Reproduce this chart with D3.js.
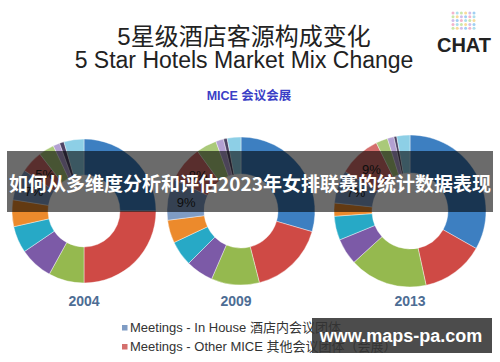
<html>
<head>
<meta charset="utf-8">
<script src="https://cdnjs.cloudflare.com/ajax/libs/d3/7.8.5/d3.min.js"></script>
<style>
  body { margin: 0; background: #fff; }
  svg { display: block; }
  text { font-family: "Liberation Sans", Arial, "Noto Sans CJK SC", sans-serif; }
</style>
</head>
<body>
<svg width="500" height="362"></svg>
<script>
// market mix by segment, % of room nights, clockwise from 12 o'clock
var years = ["2004", "2009", "2013"];
var segments = ["Corporate", "Leisure FIT", "Tour Group", "Long Stay", "Government", "Airline Crew",
                "Meetings - In House", "Meetings - Other MICE", "Wholesale", "Online", "Complimentary", "Others"];
var mix2004 = [25, 25, 8, 7.5, 6, 6, 7, 5, 3.5, 1.5, 1, 4.5];
var mix2009 = [29.5, 16.5, 10.5, 6, 5.5, 5, 9, 8, 4.5, 1.7, 0.8, 3];
var mix2013 = [33.2, 13.4, 16.6, 5.6, 5.1, 2.8, 7, 9, 2.5, 1.4, 0.6, 2.8];
var mixes = [mix2004, mix2009, mix2013];
var labeled = ["Meetings - In House", "Meetings - Other MICE"];
var legendText = ["Meetings - In House 酒店内会议团体", "Meetings - Other MICE 其他会议团体（会展）"];

var colors = ["#3d7fc1", "#cf4a45", "#95b94f", "#7c5aa7", "#27a9c6", "#ec8a2c",
              "#7f9cc4", "#d46f6d", "#aac97a", "#b3a1d2", "#4f4566", "#8dcfe6"];

var svg = d3.select("svg");

var color = d3.scaleOrdinal().domain(segments).range(colors);
var cx = d3.scaleOrdinal().domain(years).range([84, 241, 410]);
var rOuter = d3.scaleOrdinal().domain(years).range([72, 74, 76]);
var cy = 211;

// titles
svg.append("text").attr("x", 244).attr("y", 45).attr("text-anchor", "middle")
  .style("font-size", "24px").style("fill", "#222")
  .style("font-family", "'Liberation Sans', 'Noto Sans CJK SC', sans-serif")
  .text("5星级酒店客源构成变化");
svg.append("text").attr("x", 244).attr("y", 68).attr("text-anchor", "middle")
  .style("font-size", "23px").style("fill", "#222")
  .text("5 Star Hotels Market Mix Change");
svg.append("text").attr("x", 249).attr("y", 100).attr("text-anchor", "middle")
  .style("font-size", "12.5px").style("font-weight", "bold").style("fill", "#3b3fc6")
  .text("MICE 会议会展");

// CHAT logo
var bubble = svg.append("g");
var dotColors = ["#f2a7c3", "#9fd8e8", "#c3e39b", "#f7d58b", "#c9b3e6", "#8fc7f0"];
d3.range(6).forEach(function(i) {
  d3.range(5).forEach(function(j) {
    bubble.append("circle")
      .attr("cx", 453 + i * 4.2).attr("cy", 13 + j * 3.8)
      .attr("r", 1.5).style("fill", dotColors[(i + j * 2) % 6]).style("opacity", 0.85);
  });
});
svg.append("text").attr("x", 464).attr("y", 52).attr("text-anchor", "middle")
  .style("font-size", "20px").style("font-weight", "bold").style("fill", "#222")
  .text("CHAT");

// donuts
var pie = d3.pie().sort(null).value(function(d) { return d.v; });

years.forEach(function(y, k) {
  var data = segments.map(function(s, i) { return { name: s, v: mixes[k][i] }; });
  var ro = rOuter(y), ri = ro * 0.5;
  var arc = d3.arc().innerRadius(ri).outerRadius(ro);
  var g = svg.append("g").attr("transform", "translate(" + cx(y) + "," + cy + ")");
  g.selectAll("path").data(pie(data)).enter().append("path")
    .attr("d", arc)
    .style("fill", function(d) { return color(d.data.name); })
    .style("stroke", "#fff").style("stroke-width", 0.4);
  var mid = d3.arc().innerRadius((ri + ro) / 2).outerRadius((ri + ro) / 2);
  g.selectAll("text.pct").data(pie(data).filter(function(d) { return labeled.indexOf(d.data.name) >= 0; }))
    .enter().append("text").attr("class", "pct")
    .attr("transform", function(d) { return "translate(" + mid.centroid(d) + ")"; })
    .attr("text-anchor", "middle").attr("dy", "0.35em")
    .style("font-size", "13px").style("fill", "#222")
    .text(function(d) { return Math.round(d.data.v) + "%"; });
  svg.append("text").attr("x", cx(y) - (k == 1 ? 5 : 0)).attr("y", 306).attr("text-anchor", "middle")
    .style("font-size", "14px").style("font-weight", "bold").style("fill", "#4d6d94")
    .text(y);
});

// legend
var leg = svg.append("g").attr("transform", "translate(122,323)");
legendText.forEach(function(t, i) {
  leg.append("rect").attr("x", 0).attr("y", i * 19 + 2).attr("width", 5.5).attr("height", 5.5)
    .style("fill", color(labeled[i]));
  leg.append("text").attr("x", 8).attr("y", i * 19 + 9)
    .style("font-size", "13px").style("fill", "#333").text(t);
});

// overlay banner
svg.append("rect").attr("x", 7).attr("y", 151).attr("width", 486).attr("height", 61)
  .style("fill", "#000").style("opacity", 0.58);
svg.append("text").attr("x", 250).attr("y", 191).attr("text-anchor", "middle")
  .style("font-family", "'Noto Sans CJK SC', sans-serif")
  .style("font-size", "19px").style("font-weight", "bold").style("fill", "#fff")
  .text("如何从多维度分析和评估2023年女排联赛的统计数据表现");

// watermark
svg.append("rect").attr("x", 312).attr("y", 318).attr("width", 180).attr("height", 35)
  .style("fill", "#333").style("opacity", 0.88);
svg.append("text").attr("x", 401).attr("y", 342).attr("text-anchor", "middle")
  .style("font-size", "18px").style("font-weight", "bold").style("fill", "#fff")
  .text("www.maps-pa.com");
</script>
</body>
</html>
